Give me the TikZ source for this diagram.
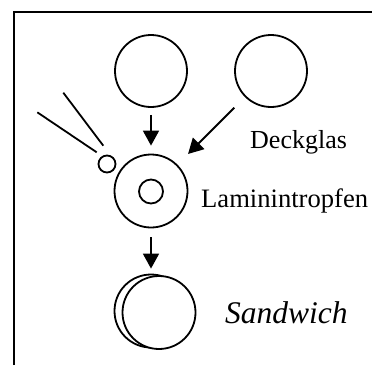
\documentclass[tikz,border=0pt]{standalone}
\usepackage{fontspec}
\setmainfont{Liberation Serif}
\usetikzlibrary{arrows.meta}
\begin{document}
\begin{tikzpicture}[x=1pt,y=-1pt,
  disc/.style={circle,draw,line width=1.8pt,inner sep=0pt,minimum size=#1},
  flow/.style={line width=1.8pt,-{Triangle[length=15pt,width=16pt]}},
  stroke/.style={line width=1.8pt},
  lbl/.style={anchor=base west,inner sep=0pt,font=\fontsize{26}{30}\selectfont}]
\useasboundingbox (0,0) rectangle (372,365);
% open frame: left and top edges only
\draw[line width=2pt] (14,365) -- (14,12) -- (372,12);
% discs
\node[disc=72pt] (drop) at (151,71) {};
\node[disc=72pt] (cover) at (271,71) {};
\node[disc=73pt] (mix) at (151,191) {};
\node[disc=24pt] (core) at (151,191.5) {};
\node[disc=17pt] (bead) at (107,164) {};
\node[disc=73pt] (back) at (151,311) {};
\node[disc=73pt,fill=white] (front) at (159,312.5) {};
% pipette strokes
\coordinate (p1) at (37.3,112.3);
\coordinate (q1) at (96.7,152.3);
\coordinate (p2) at (63.3,92.7);
\coordinate (q2) at (103.3,145.7);
\draw[stroke] (p1) -- (q1);
\draw[stroke] (p2) -- (q2);
% arrows
\draw[flow,shorten <=7pt,shorten >=8pt] (drop) -- (mix);
\draw[flow,shorten <=15pt,shorten >=15pt] (cover) -- (mix);
\draw[flow,shorten <=9pt,shorten >=5pt] (mix) -- (back);
% labels
\node[lbl] (deck) at (250,148.3) {Deckglas};
\node[lbl,font=\fontsize{26.6}{30}\selectfont] (lam) at (201,207.3) {Laminintropfen};
\node[lbl,font=\fontsize{31.5}{36}\selectfont\itshape] (sand) at (225,323.3) {Sandwich};
\end{tikzpicture}
\end{document}
